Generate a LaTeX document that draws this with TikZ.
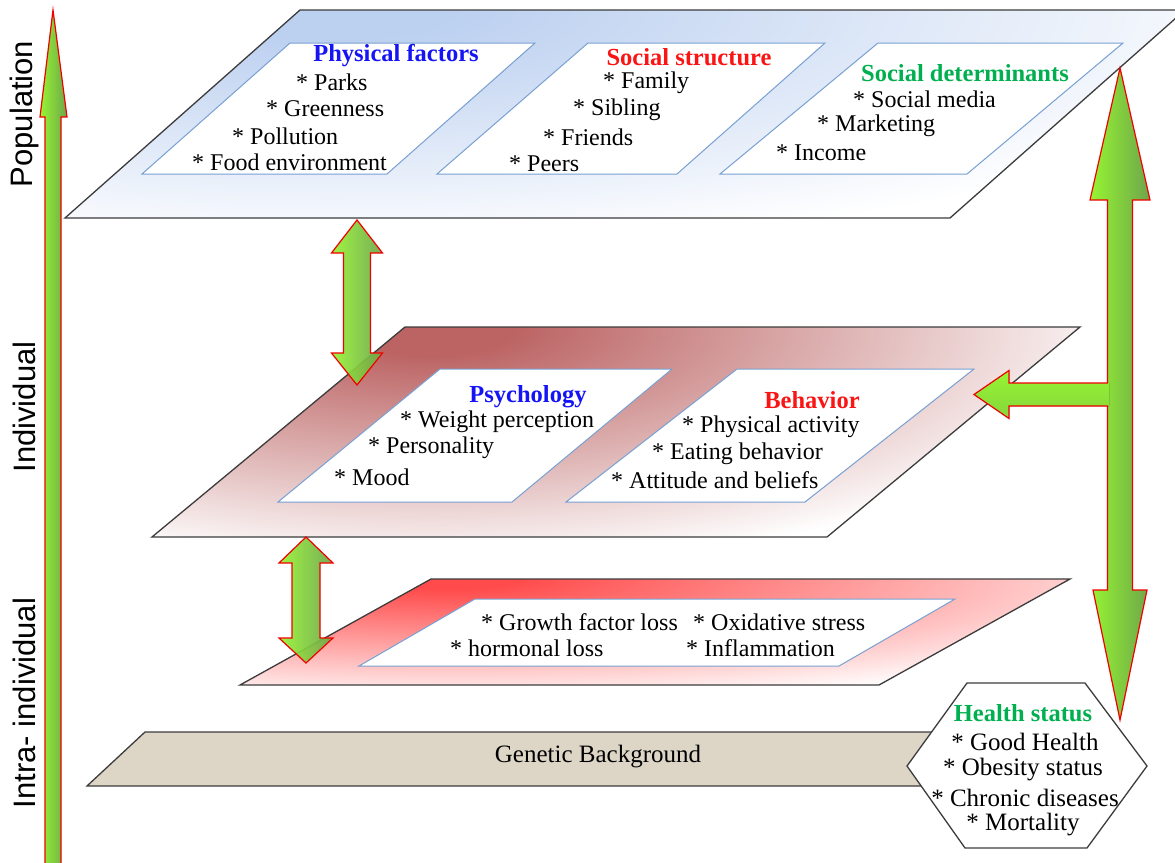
\documentclass[tikz,border=0pt]{standalone}
\usepackage{fontspec}
\setmainfont{Liberation Serif}
\newfontfamily\axisfont{Liberation Sans}
\definecolor{popc}{RGB}{188,208,240}
\definecolor{indc}{RGB}{188,100,100}
\definecolor{intc}{RGB}{255,75,75}
\definecolor{genc}{RGB}{221,214,199}
\definecolor{boxc}{RGB}{120,160,210}
\definecolor{planec}{RGB}{60,60,60}
\definecolor{gA}{RGB}{150,245,50}
\definecolor{gB}{RGB}{110,165,75}
\definecolor{tblue}{RGB}{20,20,245}
\definecolor{tred}{RGB}{250,20,20}
\definecolor{tgreen}{RGB}{0,176,80}
\pgfdeclareradialshading{glowpop}{\pgfpointorigin}{color(0bp)=(popc); color(3bp)=(popc); color(25bp)=(white); color(50bp)=(white)}
\pgfdeclareradialshading{glowind}{\pgfpointorigin}{color(0bp)=(indc); color(3bp)=(indc); color(25bp)=(white); color(50bp)=(white)}
\pgfdeclareradialshading{glowint}{\pgfpointorigin}{color(0bp)=(intc); color(2bp)=(intc); color(25bp)=(white); color(50bp)=(white)}
\begin{document}
\begin{tikzpicture}[x=1pt,y=-1pt,
  plane/.style={draw=planec, line width=1.3pt, line join=miter},
  inbox/.style={draw=boxc, line width=1pt, fill=white},
  garrow/.style={draw=red!95!black, line width=1.2pt, left color=gA, middle color=gA!80!gB, right color=gB, line join=miter},
  item/.style={anchor=west, inner sep=0pt, font=\fontsize{24}{28}\selectfont},
  ttl/.style={inner sep=0pt, font=\fontsize{24.5}{28}\selectfont\bfseries},
  hitem/.style={inner sep=0pt, font=\fontsize{25}{29}\selectfont},
  axl/.style={rotate=90, inner sep=0pt, font=\fontsize{31}{35}\selectfont\axisfont}]
\useasboundingbox (0,0) rectangle (1175,862);
\fill[white] (0,0) rectangle (1175,862);

% ---------- Population plane ----------
\def\popplane{(65,218) -- (950,218) -- (1185,10) -- (300,10) -- cycle}
\begin{scope}
  \clip \popplane;
  \fill[white] (0,0) rectangle (1175,230);
  \shade[shading=glowpop] (330,10) ellipse (1000 and 240);
\end{scope}
\draw[plane] \popplane;
\draw[inbox] (142,174) -- (387,174) -- (535,43) -- (290,43) -- cycle;
\draw[inbox] (437,174) -- (677,174) -- (825,43) -- (588,43) -- cycle;
\draw[inbox] (720,174) -- (967,174) -- (1123,43) -- (878,43) -- cycle;

\node[ttl, text=tblue] (pf) at (396,56) {Physical factors};
\node[item] (pf1) at (296,82) {* Parks};
\node[item] (pf2) at (266,109) {* Greenness};
\node[item] (pf3) at (232,136) {* Pollution};
\node[item] (pf4) at (192,162) {* Food environment};

\node[ttl, text=tred] (ss) at (689,57) {Social structure};
\node[item] (ss1) at (603,83) {* Family};
\node[item] (ss2) at (573,110) {* Sibling};
\node[item] (ss3) at (543,137) {* Friends};
\node[item] (ss4) at (509,164) {* Peers};

\node[ttl, text=tgreen] (sd) at (965,73) {Social determinants};
\node[item] (sd1) at (853,99) {* Social media};
\node[item] (sd2) at (817,126) {* Marketing};
\node[item] (sd3) at (776,153) {* Income};

% ---------- Individual plane ----------
\def\indplane{(152,537) -- (827,537) -- (1080,327) -- (405,327) -- cycle}
\begin{scope}
  \clip \indplane;
  \fill[white] (140,320) rectangle (1090,540);
  \shade[shading=glowind] (430,327) ellipse (720 and 240);
\end{scope}
\draw[plane] \indplane;
\draw[inbox] (278,502) -- (512,502) -- (672,369) -- (440,369) -- cycle;
\draw[inbox] (566,502) -- (805,502) -- (974,369) -- (737,369) -- cycle;

\node[ttl, text=tblue] (ps) at (528,397) {Psychology};
\node[item] (ps1) at (400,422) {* Weight perception};
\node[item] (ps2) at (368,448) {* Personality};
\node[item] (ps3) at (334,477) {* Mood};

\node[ttl, text=tred] (bh) at (812,400) {Behavior};
\node[item] (bh1) at (682,427) {* Physical activity};
\node[item] (bh2) at (652,454) {* Eating behavior};
\node[item] (bh3) at (611,480) {* Attitude and beliefs};

% ---------- Intra-individual plane ----------
\def\intplane{(240,685) -- (879,685) -- (1070,579) -- (431,579) -- cycle}
\begin{scope}
  \clip \intplane;
  \fill[white] (230,570) rectangle (1080,690);
  \shade[shading=glowint] (450,579) ellipse (820 and 125);
\end{scope}
\draw[plane] \intplane;
\draw[inbox] (359,666) -- (839,666) -- (955,599) -- (475,599) -- cycle;
\node[item] (in1) at (481,622) {* Growth factor loss};
\node[item] (in2) at (693,622) {* Oxidative stress};
\node[item] (in3) at (450,648) {* hormonal loss};
\node[item] (in4) at (686,648) {* Inflammation};

% ---------- Genetic background ----------
\draw[plane, fill=genc] (87,786) -- (145,732) -- (1000,732) -- (960,786) -- cycle;
\node[hitem] (gb) at (598,757) {Genetic Background};

% ---------- Health status ----------
\draw[draw=planec, line width=1.3pt, fill=white] (907,766) -- (967,683) -- (1085,683) -- (1147,766) -- (1087,848) -- (965,848) -- cycle;
\node[ttl, text=tgreen] (hs) at (1023,713) {Health status};
\node[hitem] (hs1) at (1025,742) {* Good Health};
\node[hitem] (hs2) at (1023,770) {* Obesity status};
\node[hitem] (hs3) at (1025,798) {* Chronic diseases};
\node[hitem] (hs4) at (1023,825) {* Mortality};

% ---------- Arrows ----------
\draw[garrow] (45,866) -- (45,117) -- (40,117) -- (53,10) -- (67,117) -- (61,117) -- (61,866) -- cycle;
\draw[garrow, fill opacity=0.92] (343.5,353) -- (343.5,253) -- (331.5,253) -- (357,220) -- (382.5,253) -- (370.5,253) -- (370.5,353) -- (382.5,353) -- (357,385) -- (331.5,353) -- cycle;
\draw[garrow, fill opacity=0.92] (292,638) -- (292,563) -- (279,563) -- (306,537) -- (333,563) -- (320,563) -- (320,638) -- (333,638) -- (306,663) -- (279,638) -- cycle;
\draw[garrow] (1107.5,590) -- (1107.5,200) -- (1090,200) -- (1120,68) -- (1150,200) -- (1132.5,200) -- (1132.5,590) -- (1147,590) -- (1120,720) -- (1093,590) -- cycle;
\fill[top color=gA, bottom color=gA!60!gB] (1109,383) -- (1009,383) -- (1009,370.5) -- (974,394.5) -- (1009,418.5) -- (1009,406) -- (1109,406) -- cycle;
\draw[draw=red!95!black, line width=1.2pt, line join=miter] (1108,383) -- (1009,383) -- (1009,370.5) -- (974,394.5) -- (1009,418.5) -- (1009,406) -- (1108,406);

% ---------- Level labels ----------
\node[axl] (lpop) at (24,114) {Population};
\node[axl] (lind) at (24,407) {Individual};
\node[axl] (lint) at (24,703) {Intra- individual};
\end{tikzpicture}
\end{document}
